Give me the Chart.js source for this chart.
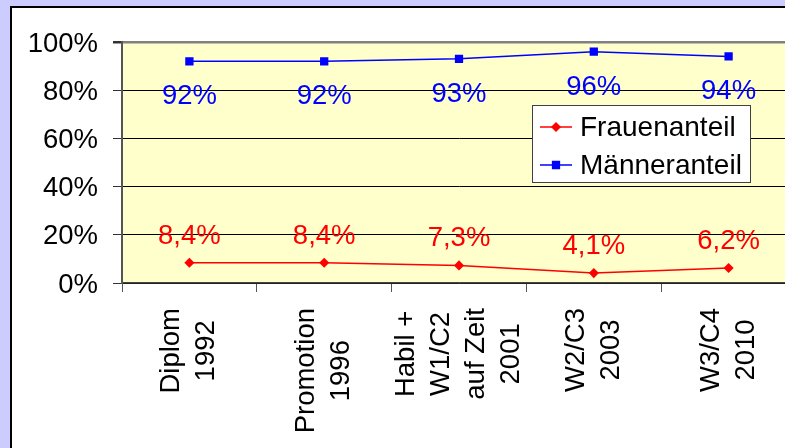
<!DOCTYPE html>
<html>
<head>
<meta charset="utf-8">
<script src="https://cdn.jsdelivr.net/npm/chart.js@4/dist/chart.umd.min.js"></script>
<style>
  html, body { margin: 0; padding: 0; width: 785px; height: 448px; overflow: hidden; background: #CCCCFF; }
  #frame { position: absolute; left: 10px; top: 6px; width: 820px; height: 470px; background: #ffffff;
           border-left: 2px solid #000; border-top: 2px solid #000; }
  #c { position: absolute; left: 0; top: 0; }
</style>
</head>
<body>
<div id="frame"><canvas id="c" width="800" height="440"></canvas></div>
<script>
// Categories (multi-line axis labels)
const categories = [
  ['Diplom', '1992'],
  ['Promotion', '1996'],
  ['Habil +', 'W1/C2', 'auf Zeit', '2001'],
  ['W2/C3', '2003'],
  ['W3/C4', '2010']
];
// Share of women / men in percent
const frauenanteil = [8.4, 8.4, 7.3, 4.1, 6.2];
const maenneranteil = [92, 92, 93, 96, 94];
// Value axis ticks
const yTicks = [0, 20, 40, 60, 80, 100];

const FONT = '"Liberation Sans", Arial, sans-serif';
const FS = 27.5;

// Pale yellow plot background
const plotBackground = {
  id: 'plotBackground',
  beforeDraw(chart) {
    const { ctx, chartArea: a } = chart;
    ctx.save();
    ctx.fillStyle = '#FFFFCC';
    ctx.fillRect(a.left, a.top, a.right - a.left, a.bottom - a.top);
    ctx.restore();
  }
};

// Value labels next to each point
const valueLabels = {
  id: 'valueLabels',
  afterDatasetsDraw(chart) {
    const { ctx } = chart;
    ctx.save();
    ctx.font = FS + 'px ' + FONT;
    ctx.textAlign = 'center';
    ctx.textBaseline = 'alphabetic';
    chart.data.datasets.forEach((ds, di) => {
      const meta = chart.getDatasetMeta(di);
      ctx.fillStyle = ds.borderColor;
      meta.data.forEach((pt, i) => {
        const v = ds.data[i];
        const txt = ds.labelFormat(v);
        ctx.fillText(txt, pt.x, pt.y + ds.labelShift + 10);
      });
    });
    ctx.restore();
  }
};

// Rotated, centred multi-line category labels under the axis
const categoryLabels = {
  id: 'categoryLabels',
  afterDraw(chart) {
    const { ctx } = chart;
    const xs = chart.scales.x;
    const lh = 35;
    const top = xs.top + 25;
    ctx.save();
    ctx.font = FS + 'px ' + FONT;
    ctx.fillStyle = '#000';
    ctx.textAlign = 'center';
    ctx.textBaseline = 'middle';
    chart.data.labels.forEach((lines, i) => {
      const px = xs.getPixelForTick(i);
      const maxW = Math.max(...lines.map(l => ctx.measureText(l).width));
      const cy = top + maxW / 2;
      lines.forEach((line, j) => {
        const lx = px + (j - (lines.length - 1) / 2) * lh;
        ctx.save();
        ctx.translate(lx, cy);
        ctx.rotate(-Math.PI / 2);
        ctx.fillText(line, 0, 0);
        ctx.restore();
      });
    });
    ctx.restore();
  }
};

// Boxed legend placed inside the plot area
const boxLegend = {
  id: 'boxLegend',
  afterDraw(chart) {
    const { ctx, chartArea: a } = chart;
    const x0 = a.left + 410, y0 = a.top + 63, w = 218, h = 77;
    ctx.save();
    ctx.fillStyle = '#ffffff';
    ctx.fillRect(x0, y0, w, h);
    ctx.strokeStyle = '#404040';
    ctx.lineWidth = 1;
    ctx.strokeRect(x0 + 0.5, y0 + 0.5, w, h);
    ctx.font = '28px ' + FONT;
    ctx.textAlign = 'left';
    ctx.textBaseline = 'middle';
    chart.data.datasets.forEach((ds, di) => {
      const cy = y0 + 22 + di * 38;
      ctx.strokeStyle = ds.borderColor;
      ctx.lineWidth = 1.5;
      ctx.beginPath();
      ctx.moveTo(x0 + 8, cy);
      ctx.lineTo(x0 + 40, cy);
      ctx.stroke();
      Chart.helpers.drawPoint(ctx, {
        pointStyle: ds.pointStyle, radius: ds.pointRadius, rotation: 0,
        borderWidth: 1
      }, x0 + 24, cy);
      ctx.fillStyle = ds.pointBackgroundColor;
      ctx.strokeStyle = ds.borderColor;
      ctx.fill();
      ctx.fillStyle = '#000';
      ctx.fillText(ds.label, x0 + 48, cy + 1);
    });
    ctx.restore();
  }
};

new Chart(document.getElementById('c'), {
  type: 'line',
  data: {
    labels: categories,
    datasets: [
      {
        label: 'Frauenanteil',
        data: frauenanteil,
        borderColor: '#FF0000',
        backgroundColor: '#FF0000',
        pointBackgroundColor: '#FF0000',
        pointBorderColor: '#FF0000',
        pointStyle: 'rectRot',
        pointRadius: 4,
        borderWidth: 1.5,
        tension: 0,
        labelShift: -29,
        labelFormat: v => v.toFixed(1).replace('.', ',') + '%'
      },
      {
        label: 'Männeranteil',
        data: maenneranteil,
        borderColor: '#0000FF',
        backgroundColor: '#0000FF',
        pointBackgroundColor: '#0000FF',
        pointBorderColor: '#0000FF',
        pointStyle: 'rect',
        pointRadius: 4.8,
        borderWidth: 1.5,
        tension: 0,
        labelShift: 33,
        labelFormat: v => v + '%'
      }
    ]
  },
  options: {
    responsive: false,
    animation: false,
    devicePixelRatio: 1,
    layout: { padding: { top: 34, right: 16, left: 0, bottom: 0 } },
    plugins: { legend: { display: false }, tooltip: { enabled: false } },
    scales: {
      x: {
        offset: true,
        grid: { offset: true, drawOnChartArea: false, drawTicks: true, tickLength: 9, color: '#555555', lineWidth: 1 },
        border: { display: true, color: '#444444', width: 1.5 },
        ticks: { display: false },
        afterFit(scale) { scale.height = 165; }
      },
      y: {
        min: 0,
        max: 100,
        afterBuildTicks(scale) { scale.ticks = yTicks.map(v => ({ value: v })); },
        grid: {
          color: c => (c.tick && c.tick.value === 100 ? '#808080' : '#000000'),
          lineWidth: c => (c.tick && c.tick.value === 100 ? 2.5 : 1),
          tickColor: '#333333',
          tickLength: 9
        },
        border: { display: true, color: '#555555', width: 2 },
        ticks: {
          padding: 15,
          labelOffset: 2,
          color: '#000',
          font: { family: FONT, size: FS },
          callback: v => v + '%'
        },
        afterFit(scale) { scale.width = 110; }
      }
    }
  },
  plugins: [plotBackground, valueLabels, categoryLabels, boxLegend]
});
</script>
</body>
</html>
